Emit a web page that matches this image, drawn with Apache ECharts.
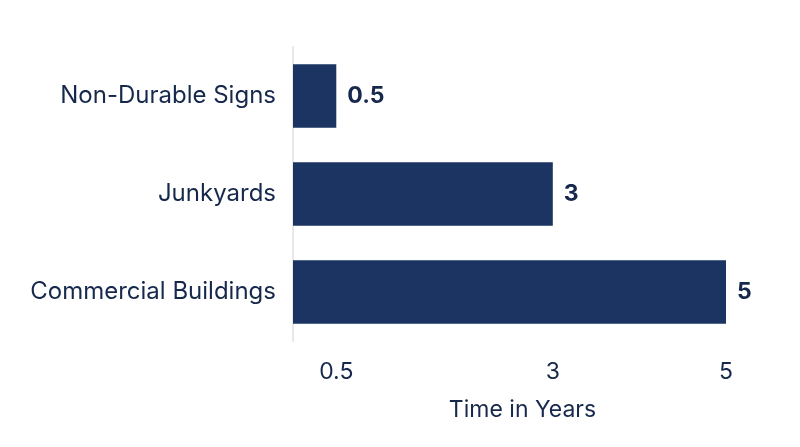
<!DOCTYPE html>
<html>
<head>
<meta charset="utf-8">
<style>
html,body{margin:0;padding:0;background:#fff;}
#chart{width:800px;height:447px;}
</style>
</head>
<body>
<div id="chart"></div>
<script src="https://cdn.jsdelivr.net/npm/echarts@6/dist/echarts.min.js"></script>
<script>
var categories = ['Commercial Buildings', 'Junkyards', 'Non-Durable Signs'];
var years = [5, 3, 0.5];
var tickLabels = [0.5, 3, 5];

var chart = echarts.init(document.getElementById('chart'));
var textColor = '#16284b';
var option = {
    grid: {
        left: 293,
        right: 74,
        top: 47,
        bottom: 106
    },
    xAxis: {
        type: 'value',
        min: 0,
        max: 5,
        interval: 0.5,
        name: 'Time in Years',
        nameLocation: 'middle',
        nameGap: 58,
        nameTextStyle: { color: textColor, fontSize: 23, fontFamily: 'Inter', padding: [0, 0, 0, 26] },
        axisLine: { show: false },
        axisTick: { show: false },
        splitLine: { show: false },
        axisLabel: {
            color: textColor,
            fontSize: 23,
            fontFamily: 'Inter',
            margin: 20,
            formatter: function (v) {
                return tickLabels.indexOf(v) >= 0 ? String(v) : '';
            }
        }
    },
    yAxis: {
        type: 'category',
        data: categories,
        axisLine: { show: true, lineStyle: { color: '#e8e8e8', width: 2 } },
        axisTick: { show: false },
        axisLabel: {
            color: textColor,
            fontSize: 24,
            fontFamily: 'Inter',
            margin: 17
        }
    },
    series: [{
        type: 'bar',
        data: years,
        barCategoryGap: '35%',
        itemStyle: { color: '#1b3461' },
        label: {
            show: true,
            position: 'right',
            distance: 11,
            color: textColor,
            fontSize: 23,
            fontWeight: 'bold',
            fontFamily: 'Inter'
        }
    }]
};
chart.setOption(option);
</script>
</body>
</html>
